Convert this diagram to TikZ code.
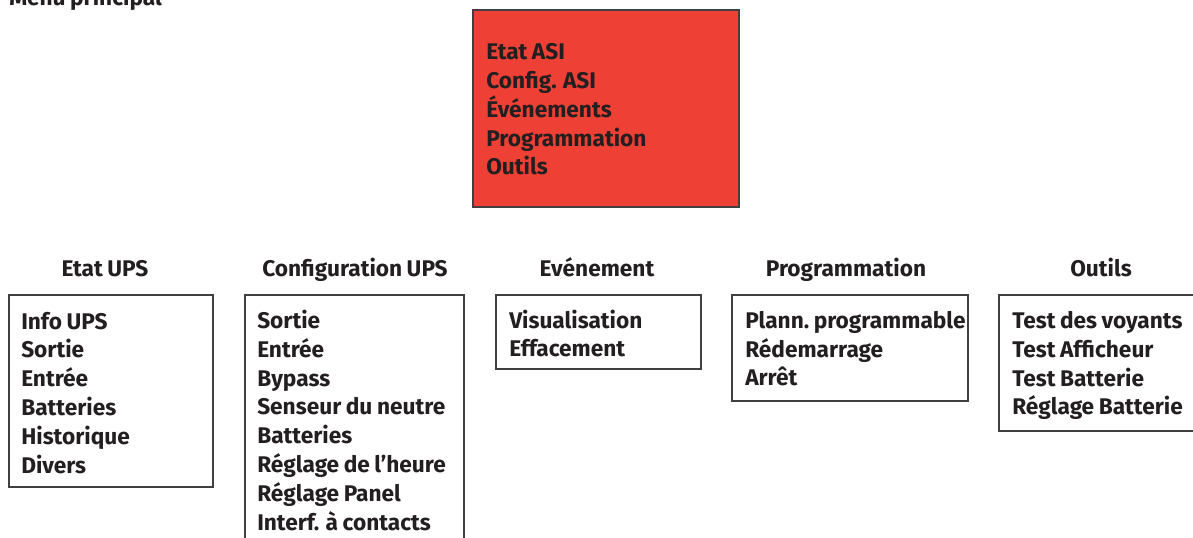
\documentclass[tikz,border=0pt]{standalone}
\usepackage{fontspec}
\setmainfont{Fira Sans}[WordSpace=0.85]
\usepackage{xcolor}

\definecolor{menured}{RGB}{238,64,53}
\definecolor{framegray}{RGB}{64,64,64}
\definecolor{inkblack}{RGB}{35,31,32}

\begin{document}
\begin{tikzpicture}[x=0.75pt,y=0.75pt,yscale=-1,xscale=1,
  menutext/.style={font=\fontsize{17}{21.6}\selectfont\bfseries, text=inkblack, inner sep=0pt},
  menulist/.style={menutext, align=left, anchor=base west},
  menutitle/.style={menutext, anchor=base},
  menuframe/.style={draw=framegray, line width=0.9pt}]
\useasboundingbox (0,0) rectangle (1193,538);
\clip (0,0) rectangle (1193,538);

% Text Node
\draw (9,6) node [menutext, anchor=base west] (mainTitle) {Menu principal};

%Shape: Rectangle [id:main menu]
\draw [menuframe, fill=menured] (473,10) rectangle (739,207);
% Text Node (anchor is the last line)
\draw (486,175) node [menulist] (mainList) {Etat ASI\\Config. ASI\\Événements\\Programmation\\Outils};

% Text Node
\draw (105,277) node [menutitle] (etatTitle) {Etat UPS};
% Text Node
\draw (355,277) node [menutitle] (configTitle) {Configuration UPS};
% Text Node
\draw (597,277) node [menutitle] (eventTitle) {Evénement};
% Text Node
\draw (846,277) node [menutitle] (progTitle) {Programmation};
% Text Node
\draw (1101,277) node [menutitle] (toolTitle) {Outils};

%Shape: Rectangle [id:etat]
\draw [menuframe] (9,295) rectangle (213,487);
%Shape: Rectangle [id:config]
\draw [menuframe] (245,295) rectangle (464,560);
%Shape: Rectangle [id:event]
\draw [menuframe] (496,295) rectangle (701,369);
%Shape: Rectangle [id:prog]
\draw [menuframe] (732,295) rectangle (968,401);
%Shape: Rectangle [id:tools]
\draw [menuframe] (999,295) rectangle (1210,431);

% Text Node
\draw (21,473) node [menulist] (etatList) {Info UPS\\Sortie\\Entrée\\Batteries\\Historique\\Divers};
% Text Node
\draw (257,530) node [menulist] (configList) {Sortie\\Entrée\\Bypass\\Senseur du neutre\\Batteries\\Réglage de l’heure\\Réglage Panel\\Interf. à contacts};
% Text Node
\draw (509,357) node [menulist] (eventList) {Visualisation\\Effacement};
% Text Node
\draw (745,386) node [menulist] (progList) {{\spaceskip=0.12em Plann. programmable}\\Rédemarrage\\Arrêt};
% Text Node
\draw (1012,415) node [menulist] (toolList) {Test des voyants\\Test Afficheur\\Test Batterie\\Réglage Batterie};

\end{tikzpicture}
\end{document}
